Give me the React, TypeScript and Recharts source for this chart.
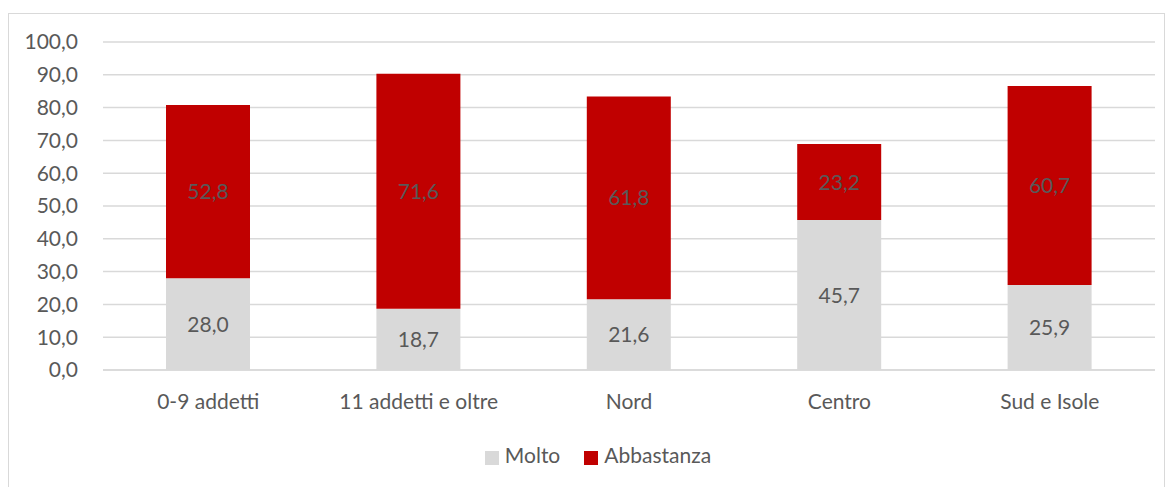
import type { JSX } from 'react';
import { BarChart, Bar, XAxis, YAxis, CartesianGrid, Legend, LabelList } from 'recharts';

const categories = ['0-9 addetti', '11 addetti e oltre', 'Nord', 'Centro', 'Sud e Isole'];
const molto = [28.0, 18.7, 21.6, 45.7, 25.9];
const abbastanza = [52.8, 71.6, 61.8, 23.2, 60.7];
const yTicks = [0, 10, 20, 30, 40, 50, 60, 70, 80, 90, 100];

const data = categories.map((name, i) => ({ name, molto: molto[i], abbastanza: abbastanza[i] }));

const fmt = (v: unknown) => Number(v).toFixed(1).replace('.', ',');
const FONT = 'Lato, "Open Sans", sans-serif';
const TEXT = '#595959';
const FS = 21;

export default function App(): JSX.Element {
  return (
    <div
      style={{
        marginTop: 5,
        width: 1157,
        height: 480,
        border: '1px solid #d9d9d9',
        boxSizing: 'border-box',
        fontFamily: FONT,
      }}
    >
      <BarChart
        width={1155}
        height={478}
        data={data}
        margin={{ top: 28, right: 9, bottom: 0, left: 0 }}
        barSize={84}
      >
        <CartesianGrid vertical={false} stroke="#d9d9d9" strokeWidth={1.5} />
        <XAxis
          dataKey="name"
          axisLine={{ stroke: '#d9d9d9', strokeWidth: 1.5 }}
          tickLine={false}
          tick={{ fill: TEXT, fontSize: FS, fontFamily: FONT }}
          tickMargin={18}
          height={92}
        />
        <YAxis
          domain={[0, 100]}
          ticks={yTicks}
          tickFormatter={fmt}
          axisLine={false}
          tickLine={false}
          tick={{ fill: TEXT, fontSize: FS, fontFamily: FONT }}
          tickMargin={19}
          width={94}
        />
        <Legend
          verticalAlign="bottom"
          iconType="square"
          iconSize={14}
          itemSorter={(item: { dataKey?: unknown }) => (item.dataKey === 'molto' ? 0 : 1)}
          wrapperStyle={{ fontSize: FS, fontFamily: FONT, top: 428, bottom: 'auto', height: 30, paddingLeft: 28 }}
          formatter={(value: string) => <span style={{ color: TEXT, marginLeft: 2, marginRight: 14 }}>{value}</span>}
        />
        <Bar dataKey="molto" name="Molto" stackId="a" fill="#d9d9d9" isAnimationActive={false}>
          <LabelList dataKey="molto" position="center" formatter={fmt} fill={TEXT} fontSize={FS} fontFamily={FONT} />
        </Bar>
        <Bar dataKey="abbastanza" name="Abbastanza" stackId="a" fill="#c00000" isAnimationActive={false}>
          <LabelList dataKey="abbastanza" position="center" formatter={fmt} fill={TEXT} fontSize={FS} fontFamily={FONT} />
        </Bar>
      </BarChart>
    </div>
  );
}
